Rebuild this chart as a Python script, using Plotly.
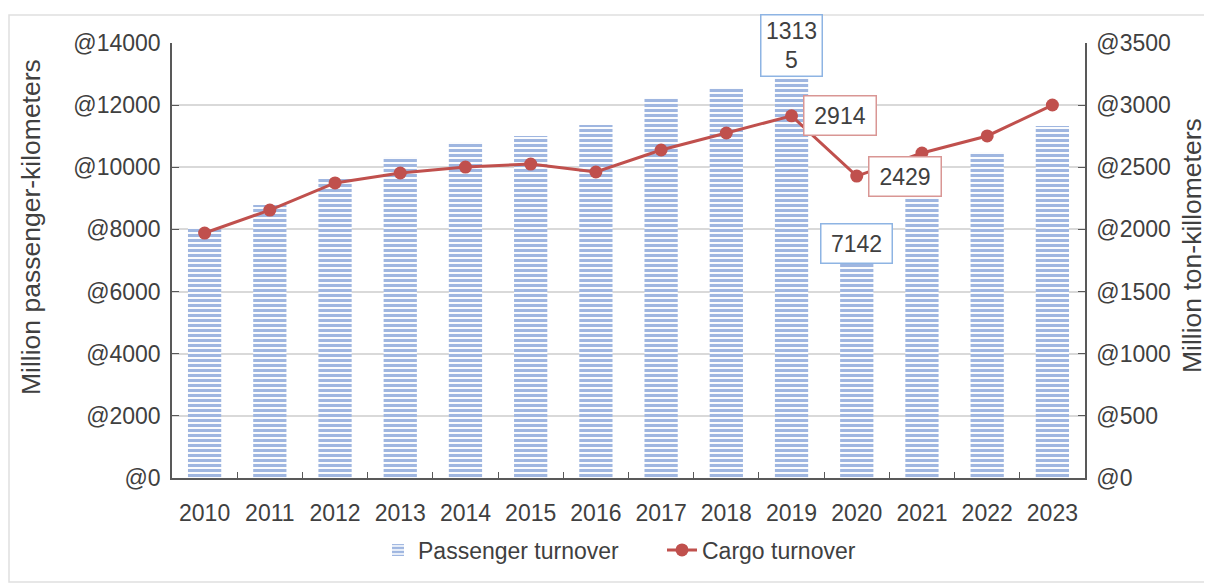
import plotly.graph_objects as go

years = [str(y) for y in range(2010, 2024)]
passenger = [8050, 8790, 9620, 10330, 10810, 11010, 11360, 12230, 12550, 13135, 7142, 9040, 10490, 11330]
cargo = [1971, 2156, 2374, 2454, 2502, 2526, 2462, 2639, 2776, 2914, 2429, 2615, 2752, 3001]

left_ticks = list(range(0, 14001, 2000))
right_ticks = list(range(0, 3501, 500))

BLUE = "#3F6EC2"
RED = "#C0504D"
FONT = "Liberation Sans, Arial, sans-serif"
TXT = "#404040"
FS = 23

# plot-area geometry (page has an 8px body margin)
L, T, W, H = 164, 35, 913, 435

fig = go.Figure()
fig.add_trace(go.Bar(
    x=years, y=passenger, name="Passenger turnover", width=0.51,
    marker=dict(color="white", line=dict(width=0),
                pattern=dict(shape="-", fgcolor=BLUE, bgcolor="white", size=5, solidity=0.62)),
    yaxis="y",
))
fig.add_trace(go.Scatter(
    x=years, y=cargo, name="Cargo turnover", mode="lines+markers",
    line=dict(color=RED, width=3), marker=dict(color=RED, size=13),
    yaxis="y2",
))

# labels (x given as category index so they don't disturb the axis)
i19 = years.index("2019")
i20 = years.index("2020")
s = str(passenger[i19])
lab = dict(showarrow=False, bgcolor="white", font=dict(size=FS, color=TXT, family=FONT))
fig.add_annotation(x=i19, y=13920, yref="y", text=s[:4] + "<br>" + s[4:],
                   bordercolor="#8EB4E3", borderwidth=1.5, borderpad=2, width=56, **lab)
fig.add_annotation(x=i20, y=7560, yref="y", text=str(passenger[i20]),
                   bordercolor="#8EB4E3", borderwidth=1.5, borderpad=6, width=58, **lab)
fig.add_annotation(x=i19, y=cargo[i19], yref="y2", text=str(cargo[i19]),
                   xanchor="left", xshift=11, bordercolor="#D99694", borderwidth=1.5, borderpad=6,
                   width=59, **lab)
fig.add_annotation(x=i20, y=cargo[i20], yref="y2", text=str(cargo[i20]),
                   xanchor="left", xshift=11, bordercolor="#D99694", borderwidth=1.5, borderpad=6,
                   width=59, **lab)

# axis titles
fig.add_annotation(xref="paper", yref="paper", x=(31 - 172) / W, y=(478 - 227) / H,
                   xanchor="center", yanchor="middle",
                   text="Million passenger-kilometers", textangle=-90, showarrow=False,
                   font=dict(size=26.5, color=TXT, family=FONT))
fig.add_annotation(xref="paper", yref="paper", x=(1192 - 172) / W, y=(478 - 246) / H,
                   xanchor="center", yanchor="middle",
                   text="Million ton-killometers", textangle=-90, showarrow=False,
                   font=dict(size=26.5, color=TXT, family=FONT))

# outer border
fig.add_shape(type="rect", xref="paper", yref="paper",
              x0=(9 - 172) / W, x1=(1206 - 172) / W, y0=(478 - 582) / H, y1=(478 - 15) / H,
              line=dict(color="#E0E0E0", width=1.5), layer="below")

fig.update_layout(
    width=1212, height=583,
    margin=dict(l=L, r=1212 - L - W, t=T, b=583 - T - H),
    paper_bgcolor="white", plot_bgcolor="white",
    font=dict(family=FONT, size=FS, color=TXT),
    xaxis=dict(type="category", categoryorder="array", categoryarray=years,
               range=[-0.5, len(years) - 0.5], autorange=False,
               showline=True, linecolor="#595959", linewidth=1.5,
               ticks="inside", tickson="boundaries", ticklen=6, tickcolor="#595959",
               ticklabelstandoff=14, tickfont=dict(size=FS, color=TXT)),
    yaxis=dict(range=[0, 14000], autorange=False, tickmode="array", tickvals=left_ticks,
               ticktext=["@" + str(v) for v in left_ticks], showgrid=True,
               gridcolor="#D9D9D9", gridwidth=1.5, showline=True, linecolor="#595959", linewidth=1.5,
               ticks="inside", ticklen=7, tickcolor="#595959", ticklabelstandoff=5,
               tickfont=dict(size=FS, color=TXT), zeroline=False),
    yaxis2=dict(range=[0, 3500], autorange=False, tickmode="array", tickvals=right_ticks,
                ticktext=["@" + str(v) for v in right_ticks], overlaying="y", side="right",
                showgrid=False, showline=True, linecolor="#595959", linewidth=1.5,
                ticks="inside", ticklen=7, tickcolor="#595959", ticklabelstandoff=5,
                tickfont=dict(size=FS, color=TXT), zeroline=False),
    legend=dict(orientation="h", x=(378 - 172) / W, xanchor="left", y=(478 - 550) / H, yanchor="middle",
                entrywidth=239, entrywidthmode="pixels",
                font=dict(size=FS, color=TXT)),
    showlegend=True,
)

fig.write_html("out.html")
